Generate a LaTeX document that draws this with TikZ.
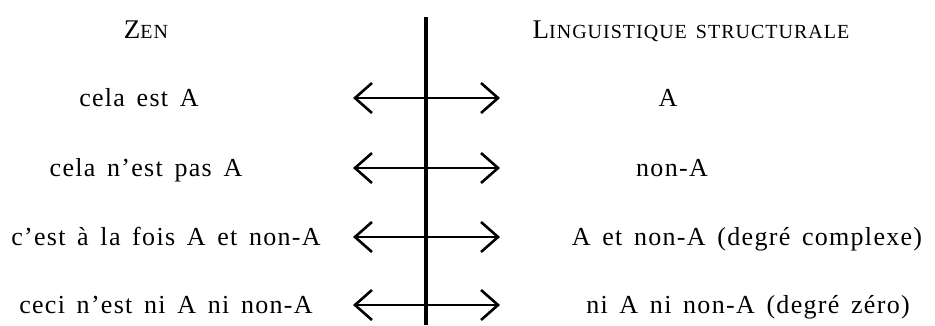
\documentclass[tikz,border=0pt]{standalone}
\usepackage{fontspec}
\setmainfont{Liberation Serif}[LetterSpace=5, WordSpace=1.5]
\usepackage{tikz}
\usetikzlibrary{arrows.meta}
\usetikzlibrary{positioning}
\newcommand{\petitcap}[1]{{\fontsize{20}{20}\selectfont #1}}

\begin{document}
\begin{tikzpicture}[x=1pt, y=-1pt]

                \useasboundingbox (0, 0) rectangle (935, 325);

                % Text styles for the two columns
                \tikzset{
                    texte/.style={inner sep=0pt, anchor=base,
                        font=\fontsize{26}{28}\selectfont},
                    titre/.style={inner sep=0pt, anchor=base,
                        font=\fontsize{27}{29}\selectfont},
                    fleche/.style={line width=2.6pt,
                        {Straight Barb[length=17pt, width=30pt]}-{Straight Barb[length=17pt, width=30pt]}}
                }

                % Headers
                \node[titre] (zen) at (146, 38) {Z\petitcap{EN}};
                \node[titre] (ling) at (691, 38)
                {L\petitcap{INGUISTIQUE STRUCTURALE}};

                % Left column
                \node[texte] (z1) at (139, 106) {cela est A};
                \node[texte] (z2) at (146, 176) {cela n'est pas A};
                \node[texte] (z3) at (166, 245) {c'est à la fois A et non-A};
                \node[texte] (z4) at (166, 313) {ceci n'est ni A ni non-A};

                % Right column
                \node[texte] (l1) at (668, 106) {A};
                \node[texte] (l2) at (672, 176) {non-A};
                \node[texte] (l3) at (747, 245) {A et non-A (degré complexe)};
                \node[texte] (l4) at (748, 313) {ni A ni non-A (degré zéro)};

                % Arrow ends
                \coordinate (g1) at (353, 98);
                \coordinate (d1) at (500, 98);
                \coordinate (g2) at (353, 168);
                \coordinate (d2) at (500, 168);
                \coordinate (g3) at (353, 237);
                \coordinate (d3) at (500, 237);
                \coordinate (g4) at (353, 305);
                \coordinate (d4) at (500, 305);
                \coordinate (haut) at (426, 17);
                \coordinate (bas) at (426, 325);

                \begin{scope}
                    \draw[line width=3.5pt] (haut) -- (bas);
                    \draw[fleche] (g1) -- (d1);
                    \draw[fleche] (g2) -- (d2);
                    \draw[fleche] (g3) -- (d3);
                    \draw[fleche] (g4) -- (d4);
                \end{scope}

                \end{tikzpicture}
\end{document}
